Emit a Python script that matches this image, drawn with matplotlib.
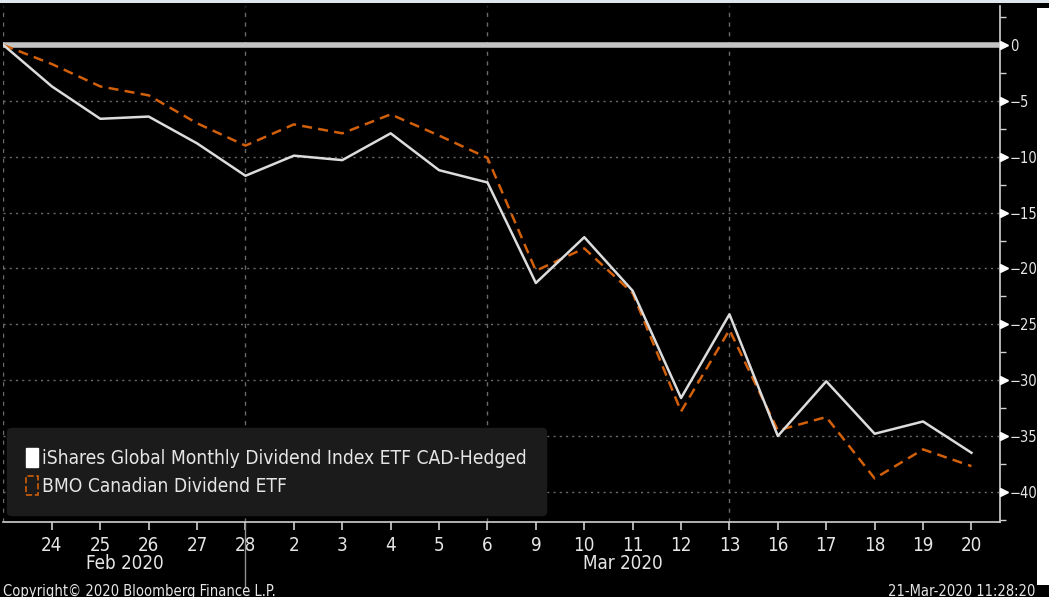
import matplotlib
matplotlib.use("Agg")
import matplotlib.pyplot as plt
from matplotlib import font_manager
from matplotlib.patches import Patch, Rectangle
from matplotlib.lines import Line2D
import matplotlib.transforms as mtransforms

# trading days, 21 Feb 2020 -> 20 Mar 2020 (first day is the base, no label)
day_labels = ['', '24', '25', '26', '27', '28', '2', '3', '4', '5', '6',
              '9', '10', '11', '12', '13', '16', '17', '18', '19', '20']
ishares = [0, -3.7, -6.6, -6.4, -8.8, -11.7, -9.9, -10.3, -7.9, -11.2, -12.3,
           -21.3, -17.2, -22.0, -31.6, -24.1, -35.0, -30.1, -34.8, -33.7, -36.5]
bmo = [0, -1.7, -3.7, -4.5, -7.0, -9.0, -7.1, -7.9, -6.2, -8.1, -10.1,
       -20.2, -18.2, -22.2, -32.8, -25.5, -34.5, -33.3, -38.8, -36.2, -37.7]
y_ticks = [0, -5, -10, -15, -20, -25, -30, -35, -40]
months = ['Feb 2020', 'Mar 2020']
month_pos = [2.5, 12.8]
series_names = ['iShares Global Monthly Dividend Index ETF CAD-Hedged',
                'BMO Canadian Dividend ETF']

# narrow font like the terminal, if there is one
names = {f.name for f in font_manager.fontManager.ttflist}
stretches = {(f.name, f.stretch) for f in font_manager.fontManager.ttflist}
if 'Liberation Sans Narrow' in names:
    plt.rcParams['font.family'] = ['Liberation Sans Narrow', 'DejaVu Sans']
    k = 1.15
elif ('DejaVu Sans', 'condensed') in stretches or ('DejaVu Sans', 'semi-condensed') in stretches:
    plt.rcParams['font.family'] = ['DejaVu Sans']
    plt.rcParams['font.stretch'] = 'condensed'
    k = 1.0
else:
    plt.rcParams['font.family'] = ['DejaVu Sans']
    k = 0.85

txt = '#e6e6e6'
orange = '#d2600a'

W, H = 1049, 597
fig = plt.figure(figsize=(W / 100, H / 100), dpi=100, facecolor='black')
ax = fig.add_axes([3 / W, (H - 522) / H, 997 / W, 516 / H], facecolor='black')

x = list(range(len(day_labels)))

# grid
for yv in y_ticks[1:]:
    ax.axhline(yv, color='#6a6a6a', lw=1, ls=(0, (1.5, 3)), zorder=1)
for xv in [0, 5, 10, 15]:
    ax.axvline(xv, color='#6a6a6a', lw=1, ls=(0, (3, 4)), zorder=1)
ax.axhline(0, color='#c4c4c4', lw=4, zorder=2)

ax.plot(x, ishares, color='#dcdcdc', lw=1.8, zorder=4)
ax.plot(x, bmo, color=orange, lw=1.8, ls=(0, (4, 2.5)), zorder=3)

ax.set_xlim(-0.01, 20.59)
ax.set_ylim(-42.7, 3.5)

for side in ['top', 'left']:
    ax.spines[side].set_visible(False)
for side in ['bottom', 'right']:
    ax.spines[side].set_color('#d0d0d0')
    ax.spines[side].set_linewidth(1.2)

ax.set_xticks(x[1:])
ax.set_xticklabels(day_labels[1:])
ax.tick_params(axis='x', colors='#d0d0d0', labelcolor=txt, labelsize=13.5 * k,
               length=6, width=1.2, pad=4)
ax.yaxis.tick_right()
ax.set_yticks(y_ticks)
ax.set_yticks([v - 2.5 for v in y_ticks] + [2.5], minor=True)
ax.tick_params(axis='y', which='major', colors='#d0d0d0', labelcolor=txt,
               labelsize=10.5 * k, length=0, pad=7)
ax.tick_params(axis='y', which='minor', colors='#d0d0d0', length=4, width=1)

# triangle tick markers on the right axis
tr = mtransforms.blended_transform_factory(ax.transAxes, ax.transData)
ax.plot([1.004] * len(y_ticks), y_ticks, ls='none', marker='>', ms=6,
        color='white', transform=tr, clip_on=False, zorder=5)

# month labels and separator
trx = mtransforms.blended_transform_factory(ax.transData, ax.transAxes)
for m, p in zip(months, month_pos):
    ax.text(p, -0.08, m, transform=trx, ha='center', va='center', color=txt,
            fontsize=13.5 * k)
ax.add_line(Line2D([5, 5], [0, -0.125], color='#909090', lw=1, transform=trx,
                   clip_on=False))

handles = [Patch(facecolor='white', edgecolor='white'),
           Patch(facecolor='none', edgecolor=orange, ls='--', lw=1.2)]
leg = ax.legend(handles, series_names, loc='lower left', bbox_to_anchor=(0.004, 0.0136),
                borderaxespad=0, frameon=True, fancybox=True, facecolor='#1b1b1b',
                edgecolor='#1b1b1b', fontsize=13.8 * k, labelcolor=txt, handlelength=0.6,
                handleheight=1.2, handletextpad=0.25, borderpad=1.0, labelspacing=0.4,
                framealpha=1)
leg.set_zorder(6)

# screenshot edges
fig.patches.append(Rectangle((0, 1 - 3 / H), 1, 3 / H, transform=fig.transFigure,
                             facecolor='#dfe6ee', edgecolor='none'))
fig.patches.append(Rectangle((1037 / W, 1 - 585 / H), 12 / W, 577 / H,
                             transform=fig.transFigure, facecolor='white', edgecolor='none'))

fig.text(3 / W, 1 - 591 / H, 'Copyright\u00a9 2020 Bloomberg Finance L.P.', color=txt,
         fontsize=10.5 * k, ha='left', va='center')
fig.text(1035 / W, 1 - 591 / H, '21-Mar-2020 11:28:20', color=txt,
         fontsize=10.5 * k, ha='right', va='center')

fig.savefig('out.png', dpi=100, facecolor='black')
